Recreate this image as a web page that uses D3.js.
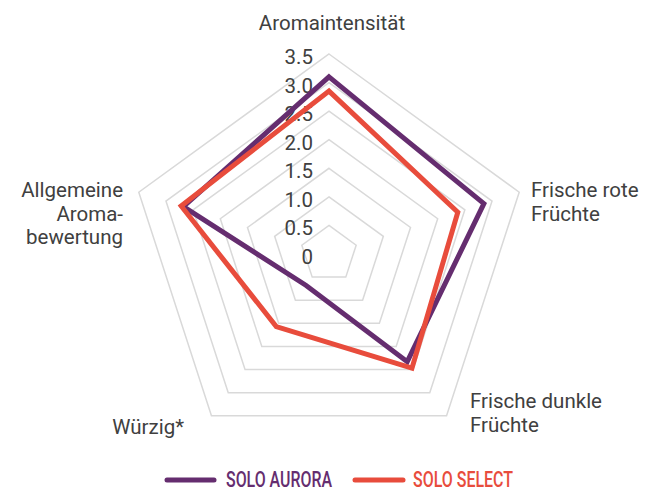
<!DOCTYPE html>
<html>
<head>
<meta charset="utf-8">
<script src="https://cdn.jsdelivr.net/npm/d3@7"></script>
<style>
    body { margin: 0; background: #fff; }
    svg { display: block; font-family: Roboto, "Open Sans", sans-serif; }
    .grid { fill: none; stroke: #d9d9d9; stroke-width: 1.5px; }
    .tick-label { font-size: 20.5px; fill: #404040; }
    .axis-label { font-size: 20.5px; fill: #404040; }
    .series { fill: none; stroke-width: 5px; stroke-linejoin: miter; }
</style>
</head>
<body>
<div class="content"></div>
<script>
// оси радара (подписи разбиты на строки)
var axes = [
    ['Aromaintensität'],
    ['Frische rote', 'Früchte'],
    ['Frische dunkle', 'Früchte'],
    ['Würzig*'],
    ['Allgemeine', 'Aroma-', 'bewertung']
];

// значения серий
var aurora = [3.1, 2.85, 2.33, 0.68, 2.68];
var select = [2.85, 2.37, 2.47, 1.57, 2.72];

// подписи шкалы
var ticks = [0, 0.5, 1.0, 1.5, 2.0, 2.5, 3.0, 3.5];
var tickLabels = ['0', '0.5', '1.0', '1.5', '2.0', '2.5', '3.0', '3.5'];

var series = [
    { name: 'SOLO AURORA', values: aurora, color: '#652d6f' },
    { name: 'SOLO SELECT', values: select, color: '#e84c3c' }
];

// размеры картинки
var w = 659,
    h = 493;
var cx = 329,
    cy = 254;

var svg = d3.select('.content').append('svg')
    .attr('width', w)
    .attr('height', h);

// радиальная шкала
var r = d3.scaleLinear()
    .domain([0, 3.5])
    .range([0, 200]);

var angle = d3.scaleLinear()
    .domain([0, axes.length])
    .range([0, 2 * Math.PI]);

var line = d3.lineRadial()
    .angle(function(d, i) { return angle(i); })
    .radius(function(d) { return r(d); })
    .curve(d3.curveLinearClosed);

var g = svg.append('g')
    .attr('transform', 'translate(' + cx + ',' + cy + ')');

// сетка: пятиугольники
g.selectAll('path.grid')
    .data(ticks.slice(1))
    .enter()
    .append('path')
    .attr('class', 'grid')
    .attr('d', function(t) { return line(axes.map(function() { return t; })); });

// подписи шкалы
g.selectAll('text.tick-label')
    .data(ticks)
    .enter()
    .append('text')
    .attr('class', 'tick-label')
    .attr('x', -16)
    .attr('y', function(t) { return -r(t) + 10; })
    .attr('text-anchor', 'end')
    .text(function(t, i) { return tickLabels[i]; });

// серии
g.selectAll('path.series')
    .data(series)
    .enter()
    .append('path')
    .attr('class', 'series')
    .attr('d', function(d) { return line(d.values); })
    .style('stroke', function(d) { return d.color; });

// подписи осей
var labelPos = [
    { x: 332, y: 30, anchor: 'middle' },
    { x: 531, y: 197, anchor: 'start' },
    { x: 470, y: 408, anchor: 'start' },
    { x: 184, y: 434, anchor: 'end' },
    { x: 123, y: 197, anchor: 'end' }
];

var labels = svg.selectAll('text.axis-label')
    .data(axes)
    .enter()
    .append('text')
    .attr('class', 'axis-label')
    .attr('text-anchor', function(d, i) { return labelPos[i].anchor; })
    .attr('x', function(d, i) { return labelPos[i].x; })
    .attr('y', function(d, i) { return labelPos[i].y; });

labels.selectAll('tspan')
    .data(function(d, i) { return d.map(function(s) { return { s: s, i: i }; }); })
    .enter()
    .append('tspan')
    .attr('x', function(d) { return labelPos[d.i].x; })
    .attr('dy', function(d, j) { return j === 0 ? 0 : 23.5; })
    .text(function(d) { return d.s; });

// легенда
var legendPos = [
    { x1: 167, x2: 214, tx: 226, tw: 106 },
    { x1: 355, x2: 403, tx: 413, tw: 100 }
];

var legend = svg.selectAll('g.legend')
    .data(series)
    .enter()
    .append('g')
    .attr('class', 'legend');

legend.append('line')
    .attr('x1', function(d, i) { return legendPos[i].x1; })
    .attr('x2', function(d, i) { return legendPos[i].x2; })
    .attr('y1', 480)
    .attr('y2', 480)
    .style('stroke', function(d) { return d.color; })
    .style('stroke-width', 5)
    .style('stroke-linecap', 'round');

legend.append('text')
    .attr('x', function(d, i) { return legendPos[i].tx; })
    .attr('y', 487)
    .attr('textLength', function(d, i) { return legendPos[i].tw; })
    .attr('lengthAdjust', 'spacingAndGlyphs')
    .style('font-size', '21.5px')
    .style('font-weight', 500)
    .style('fill', function(d) { return d.color; })
    .text(function(d) { return d.name; });
</script>
</body>
</html>
